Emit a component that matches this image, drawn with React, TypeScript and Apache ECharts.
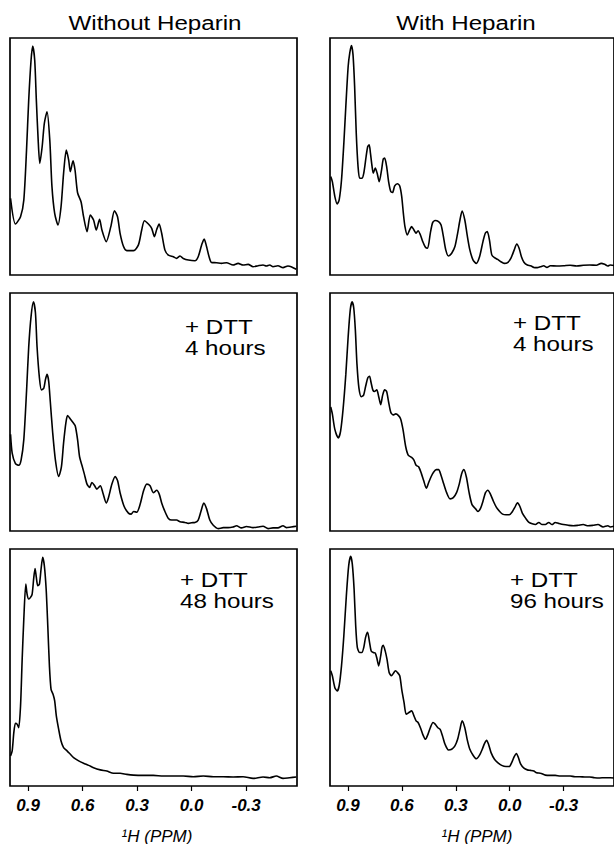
import React, { useEffect, useRef } from "react";
import * as echarts from "echarts";

// 1H NMR methyl region, chemical shift (ppm) vs relative intensity (0-100)
const withoutHeparin: [number, number][] = [
  [0.997, 32.3], [0.97, 21.5], [0.942, 24.6], [0.924, 31.6], [0.909, 52.7], [0.897, 73.8], [0.884, 90.7],
  [0.875, 96.6], [0.864, 90.7], [0.855, 73.8], [0.845, 57.0], [0.836, 47.1], [0.823, 54.1], [0.811, 64.0],
  [0.796, 68.9], [0.781, 57.0], [0.769, 37.3], [0.754, 26.0], [0.736, 21.1], [0.719, 28.8], [0.705, 42.9],
  [0.69, 52.7], [0.677, 48.5], [0.668, 43.6], [0.653, 48.2], [0.642, 44.3], [0.628, 34.7], [0.609, 30.9],
  [0.595, 24.6], [0.576, 18.3], [0.558, 25.3], [0.54, 23.2], [0.525, 19.0], [0.507, 23.5], [0.494, 19.0],
  [0.47, 14.1], [0.445, 20.4], [0.425, 27.1], [0.408, 24.6], [0.394, 17.6], [0.375, 12.0], [0.357, 10.3],
  [0.32, 10.3], [0.293, 12.7], [0.275, 19.0], [0.26, 22.9], [0.238, 21.5], [0.22, 19.7], [0.205, 16.2],
  [0.192, 19.3], [0.179, 21.5], [0.165, 17.6], [0.147, 10.5], [0.128, 8.4], [0.101, 7.7], [0.083, 7.0],
  [0.064, 8.0], [0.046, 7.0], [0.018, 6.3], [-0.018, 6.0], [-0.036, 7.7], [-0.055, 12.7], [-0.069, 15.2],
  [-0.082, 12.0], [-0.096, 7.7], [-0.109, 5.3], [-0.137, 5.2], [-0.164, 4.9], [-0.192, 5.2], [-0.228, 4.2],
  [-0.256, 4.9], [-0.283, 4.2], [-0.311, 4.5], [-0.338, 3.5], [-0.366, 3.9], [-0.393, 4.2], [-0.411, 3.8],
  [-0.43, 4.2], [-0.448, 3.5], [-0.475, 3.9], [-0.503, 3.1], [-0.53, 3.8], [-0.548, 3.5], [-0.576, 2.4],
];

const withoutHeparinDtt4h: [number, number][] = [
  [0.997, 40.6], [0.988, 32.7], [0.97, 28.3], [0.952, 27.6], [0.939, 29.8], [0.924, 38.4], [0.909, 58.6],
  [0.897, 77.3], [0.884, 90.2], [0.871, 96.3], [0.86, 91.7], [0.851, 77.3], [0.838, 64.3], [0.827, 59.3],
  [0.814, 60.0], [0.805, 63.6], [0.796, 65.8], [0.787, 62.9], [0.778, 54.2], [0.765, 41.3], [0.75, 29.8],
  [0.732, 22.9], [0.717, 26.9], [0.705, 37.0], [0.692, 45.6], [0.683, 48.5], [0.668, 47.1], [0.653, 45.6],
  [0.641, 44.2], [0.628, 38.4], [0.617, 31.2], [0.604, 27.6], [0.591, 24.0], [0.576, 19.7], [0.562, 18.3],
  [0.549, 20.4], [0.534, 19.0], [0.522, 17.6], [0.503, 19.0], [0.489, 16.1], [0.47, 11.8], [0.458, 14.0],
  [0.439, 19.7], [0.421, 22.9], [0.408, 21.2], [0.394, 16.1], [0.372, 10.4], [0.348, 7.5], [0.333, 7.1],
  [0.32, 8.2], [0.302, 7.9], [0.284, 11.1], [0.265, 16.8], [0.247, 19.7], [0.229, 19.0], [0.211, 16.1],
  [0.192, 17.1], [0.178, 15.4], [0.165, 11.8], [0.147, 8.2], [0.128, 5.3], [0.11, 4.6], [0.083, 4.6],
  [0.064, 3.9], [0.037, 3.6], [0.018, 3.2], [0.0, 3.5], [-0.018, 3.6], [-0.036, 4.6], [-0.051, 8.2],
  [-0.067, 11.7], [-0.082, 9.4], [-0.1, 4.6], [-0.119, 2.4], [-0.146, 1.0], [-0.174, 1.4], [-0.201, 1.4],
  [-0.228, 1.7], [-0.247, 2.2], [-0.274, 1.3], [-0.302, 1.9], [-0.338, 1.4], [-0.366, 1.7], [-0.393, 2.0],
  [-0.421, 1.0], [-0.448, 1.3], [-0.475, 1.3], [-0.503, 2.2], [-0.521, 1.4], [-0.548, 1.7], [-0.576, 2.0],
];

const withoutHeparinDtt48h: [number, number][] = [
  [0.997, 12.7], [0.988, 14.8], [0.979, 22.5], [0.97, 26.5], [0.961, 26.1], [0.952, 24.6], [0.942, 33.8],
  [0.933, 53.5], [0.924, 70.4], [0.913, 85.2], [0.906, 81.0], [0.897, 78.9], [0.887, 79.6], [0.878, 81.0],
  [0.869, 88.0], [0.862, 91.8], [0.855, 88.0], [0.847, 84.5], [0.838, 85.2], [0.829, 91.5], [0.82, 96.5],
  [0.811, 93.0], [0.801, 83.1], [0.792, 67.6], [0.783, 50.7], [0.774, 40.8], [0.763, 38.7], [0.754, 35.9],
  [0.745, 29.6], [0.732, 23.9], [0.719, 19.0], [0.705, 16.2], [0.686, 14.8], [0.668, 13.4], [0.65, 12.0],
  [0.622, 10.6], [0.595, 9.6], [0.567, 8.7], [0.54, 7.7], [0.503, 6.8], [0.467, 6.3], [0.43, 5.4],
  [0.394, 5.4], [0.357, 4.9], [0.32, 4.6], [0.265, 4.5], [0.211, 4.5], [0.156, 4.2], [0.101, 4.2],
  [0.046, 4.2], [-0.009, 3.9], [-0.064, 4.2], [-0.119, 3.9], [-0.174, 3.9], [-0.228, 3.8], [-0.283, 3.9],
  [-0.338, 3.2], [-0.393, 3.8], [-0.43, 3.5], [-0.466, 4.2], [-0.503, 3.2], [-0.539, 3.5], [-0.576, 3.8],
];

const withHeparin: [number, number][] = [
  [0.996, 41.5], [0.987, 39.4], [0.973, 33.1], [0.96, 30.0], [0.949, 31.7], [0.936, 40.1], [0.923, 55.6],
  [0.912, 71.1], [0.899, 88.0], [0.89, 93.7], [0.881, 96.8], [0.872, 93.0], [0.863, 79.6], [0.854, 59.9],
  [0.844, 45.8], [0.835, 40.8], [0.823, 40.8], [0.812, 43.0], [0.799, 50.0], [0.79, 54.2], [0.782, 54.9],
  [0.775, 51.4], [0.766, 45.8], [0.759, 43.0], [0.748, 45.1], [0.738, 43.0], [0.726, 39.4], [0.713, 44.4],
  [0.704, 48.9], [0.696, 49.3], [0.685, 45.8], [0.674, 39.4], [0.662, 35.2], [0.652, 34.8], [0.64, 37.6],
  [0.625, 38.5], [0.612, 37.6], [0.601, 33.1], [0.592, 26.1], [0.583, 20.4], [0.57, 16.9], [0.557, 19.0],
  [0.546, 20.4], [0.533, 19.0], [0.521, 17.6], [0.51, 18.7], [0.497, 16.9], [0.484, 14.1], [0.469, 11.7],
  [0.457, 11.3], [0.442, 17.6], [0.429, 22.1], [0.415, 23.0], [0.396, 22.5], [0.382, 21.1], [0.369, 16.2],
  [0.356, 10.6], [0.341, 8.0], [0.323, 9.2], [0.305, 12.0], [0.29, 17.6], [0.277, 23.2], [0.265, 27.0],
  [0.25, 23.2], [0.237, 16.9], [0.222, 10.6], [0.204, 6.3], [0.186, 4.9], [0.168, 7.7], [0.149, 14.1],
  [0.136, 17.6], [0.125, 18.3], [0.113, 14.8], [0.1, 8.5], [0.085, 7.3], [0.067, 6.6], [0.049, 5.6],
  [0.031, 4.9], [0.012, 5.2], [-0.006, 7.0], [-0.025, 10.6], [-0.039, 13.1], [-0.052, 11.3], [-0.065, 7.7],
  [-0.079, 5.4], [-0.098, 4.2], [-0.116, 3.9], [-0.134, 3.2], [-0.153, 3.1], [-0.171, 3.5], [-0.189, 3.9],
  [-0.207, 3.2], [-0.226, 3.9], [-0.262, 3.8], [-0.299, 3.9], [-0.336, 4.1], [-0.372, 3.8], [-0.409, 4.1],
  [-0.445, 4.2], [-0.482, 4.1], [-0.509, 4.9], [-0.528, 4.5], [-0.546, 3.8], [-0.559, 4.2], [-0.58, 4.0],
];

const withHeparinDtt4h: [number, number][] = [
  [0.996, 52.1], [0.987, 49.2], [0.973, 42.7], [0.954, 39.1], [0.941, 42.0], [0.927, 51.4], [0.912, 65.8],
  [0.899, 81.6], [0.887, 93.1], [0.877, 96.3], [0.868, 93.8], [0.859, 84.5], [0.85, 70.1], [0.839, 60.0],
  [0.826, 56.4], [0.813, 57.1], [0.802, 60.7], [0.79, 64.3], [0.78, 65.0], [0.771, 62.2], [0.762, 59.3],
  [0.753, 58.6], [0.74, 59.3], [0.729, 56.4], [0.718, 53.1], [0.707, 57.1], [0.696, 59.3], [0.685, 58.6],
  [0.674, 54.2], [0.662, 49.9], [0.649, 48.8], [0.634, 49.2], [0.619, 48.5], [0.607, 47.1], [0.594, 42.7],
  [0.579, 35.5], [0.565, 31.9], [0.546, 30.9], [0.533, 29.8], [0.521, 27.6], [0.506, 26.9], [0.491, 24.0],
  [0.479, 21.2], [0.464, 18.0], [0.451, 20.4], [0.437, 22.9], [0.424, 24.7], [0.409, 25.8], [0.396, 25.8],
  [0.382, 23.3], [0.367, 19.7], [0.351, 16.1], [0.332, 13.5], [0.314, 14.0], [0.296, 16.1], [0.281, 19.7],
  [0.268, 24.0], [0.255, 25.8], [0.241, 22.6], [0.226, 16.1], [0.21, 11.1], [0.191, 9.4], [0.177, 8.2],
  [0.162, 9.6], [0.149, 12.5], [0.135, 16.1], [0.122, 17.1], [0.107, 15.4], [0.091, 12.5], [0.074, 9.9],
  [0.056, 8.2], [0.04, 7.1], [0.021, 6.8], [0.003, 6.8], [-0.015, 8.2], [-0.028, 9.9], [-0.043, 11.8],
  [-0.056, 10.4], [-0.07, 7.5], [-0.089, 5.3], [-0.107, 3.6], [-0.125, 3.0], [-0.143, 2.7], [-0.162, 3.6],
  [-0.18, 2.7], [-0.198, 2.7], [-0.217, 3.6], [-0.235, 2.7], [-0.253, 3.6], [-0.272, 3.2], [-0.299, 2.7],
  [-0.326, 2.4], [-0.354, 2.2], [-0.381, 2.4], [-0.409, 2.7], [-0.436, 2.2], [-0.464, 2.4], [-0.491, 2.7],
  [-0.519, 1.7], [-0.546, 2.2], [-0.559, 1.7], [-0.58, 2.0],
];

const withHeparinDtt96h: [number, number][] = [
  [0.996, 48.6], [0.987, 46.5], [0.973, 41.5], [0.96, 40.1], [0.949, 42.3], [0.936, 50.7], [0.923, 63.4],
  [0.909, 80.3], [0.896, 93.0], [0.885, 96.9], [0.876, 93.7], [0.866, 83.1], [0.857, 67.6], [0.848, 58.5],
  [0.835, 56.3], [0.823, 56.3], [0.812, 58.5], [0.802, 62.7], [0.791, 64.8], [0.78, 60.6], [0.771, 57.0],
  [0.759, 56.3], [0.748, 56.1], [0.738, 53.5], [0.729, 50.7], [0.718, 54.9], [0.711, 58.5], [0.704, 59.4],
  [0.693, 57.0], [0.683, 53.5], [0.671, 47.9], [0.658, 46.5], [0.647, 47.6], [0.636, 48.6], [0.625, 47.9],
  [0.612, 46.5], [0.601, 40.8], [0.588, 35.2], [0.576, 30.3], [0.561, 31.0], [0.546, 31.7], [0.533, 29.6],
  [0.521, 27.5], [0.51, 26.8], [0.497, 24.6], [0.484, 21.8], [0.469, 19.7], [0.455, 21.8], [0.442, 24.6],
  [0.427, 26.8], [0.415, 26.1], [0.4, 24.6], [0.387, 23.9], [0.374, 21.1], [0.36, 17.6], [0.341, 15.2],
  [0.323, 15.5], [0.305, 16.9], [0.29, 19.7], [0.277, 23.9], [0.265, 27.5], [0.25, 24.6], [0.237, 19.7],
  [0.222, 15.5], [0.204, 13.0], [0.186, 11.5], [0.168, 13.0], [0.153, 15.5], [0.14, 18.0], [0.129, 19.3],
  [0.118, 17.6], [0.104, 14.1], [0.085, 11.3], [0.067, 9.9], [0.045, 8.7], [0.021, 8.2], [0.003, 8.2],
  [-0.012, 10.1], [-0.025, 12.4], [-0.037, 13.7], [-0.048, 12.0], [-0.061, 9.2], [-0.079, 7.5], [-0.098, 6.8],
  [-0.116, 6.6], [-0.134, 6.3], [-0.149, 5.6], [-0.171, 5.4], [-0.198, 4.6], [-0.226, 4.5], [-0.253, 4.5],
  [-0.281, 4.2], [-0.308, 4.2], [-0.336, 4.2], [-0.363, 3.9], [-0.39, 3.9], [-0.418, 3.8], [-0.445, 3.8],
  [-0.472, 3.5], [-0.5, 3.4], [-0.528, 3.5], [-0.559, 3.5], [-0.58, 3.4],
];

const ppmTicks = [0.9, 0.6, 0.3, 0.0, -0.3];
const columnTitles = ["Without Heparin", "With Heparin"];
const dttLabel = "+ DTT";
const timeLabels = [
  [null, "4 hours", "48 hours"],
  [null, "4 hours", "96 hours"],
];
const axisTitle = "\u00B9H (PPM)";

const spectra = [
  [withoutHeparin, withoutHeparinDtt4h, withoutHeparinDtt48h],
  [withHeparin, withHeparinDtt4h, withHeparinDtt96h],
];

const FONT = "'Liberation Sans', Arial, Helvetica, sans-serif";
const PPM_MIN = -0.58;
const PPM_MAX = 1.0;

// panel frames
const colLeft = [10, 330];
const panelWidth = 287;
const rowTop = [38, 293, 549];
const rowHeight = [237, 238, 237];
const colCenter = [155, 466];
const axisTitleCenter = [157, 477];
const noteLeft = [
  [0, 185, 180],
  [0, 513, 510],
];
const noteBaseline = [
  [0, 334, 587],
  [0, 330, 587],
];

export default function App() {
  const ref = useRef<HTMLDivElement>(null);

  useEffect(() => {
    if (!ref.current) return;
    const chart = echarts.init(ref.current, undefined, { renderer: "svg" });

    const grid: any[] = [];
    const xAxis: any[] = [];
    const yAxis: any[] = [];
    const series: any[] = [];
    const graphic: any[] = [];

    for (let c = 0; c < 2; c++) {
      for (let r = 0; r < 3; r++) {
        const i = c * 3 + r;
        const bottomRow = r === 2;
        grid.push({
          left: colLeft[c],
          top: rowTop[r],
          width: panelWidth,
          height: rowHeight[r],
          show: true,
          borderColor: "#000",
          borderWidth: 1.7,
          backgroundColor: "transparent",
          containLabel: false,
        });
        xAxis.push({
          type: "value",
          gridIndex: i,
          inverse: true,
          min: PPM_MIN,
          max: PPM_MAX,
          axisLine: { show: false },
          splitLine: { show: false },
          axisTick: {
            show: bottomRow,
            inside: false,
            length: 5,
            customValues: ppmTicks,
            lineStyle: { color: "#000", width: 1.2 },
          },
          axisLabel: {
            show: bottomRow,
            customValues: ppmTicks,
            formatter: (v: number) => v.toFixed(1),
            margin: 11,
            color: "#000",
            fontFamily: FONT,
            fontStyle: "italic",
            fontWeight: "bold",
            fontSize: 17,
          },
        });
        yAxis.push({
          type: "value",
          gridIndex: i,
          min: 0,
          max: 100,
          show: false,
        });
        series.push({
          type: "line",
          xAxisIndex: i,
          yAxisIndex: i,
          data: spectra[c][r],
          showSymbol: false,
          smooth: 0.25,
          clip: true,
          lineStyle: { color: "#000", width: 1.6 },
        });

        const t = timeLabels[c][r];
        if (t) {
          const fs = 21;
          const mid = 0.35 * fs;
          graphic.push({
            type: "text",
            x: noteLeft[c][r],
            y: noteBaseline[c][r] - mid,
            scaleX: 1.15,
            style: {
              text: dttLabel,
              font: `${fs}px ${FONT}`,
              fill: "#000",
              align: "left",
              verticalAlign: "middle",
            },
          });
          graphic.push({
            type: "text",
            x: noteLeft[c][r],
            y: noteBaseline[c][r] + 21 - mid,
            scaleX: 1.15,
            style: {
              text: t,
              font: `${fs}px ${FONT}`,
              fill: "#000",
              align: "left",
              verticalAlign: "middle",
            },
          });
        }
      }

      graphic.push({
        type: "text",
        x: colCenter[c],
        y: 23,
        scaleX: 1.15,
        style: {
          text: columnTitles[c],
          font: `21px ${FONT}`,
          fill: "#000",
          align: "center",
          verticalAlign: "middle",
        },
      });
      graphic.push({
        type: "text",
        x: axisTitleCenter[c],
        y: 836,
        style: {
          text: axisTitle,
          font: `italic 17px ${FONT}`,
          fill: "#000",
          align: "center",
          verticalAlign: "middle",
        },
      });
    }

    chart.setOption({
      animation: false,
      backgroundColor: "#fff",
      grid,
      xAxis,
      yAxis,
      series,
      graphic,
    });

    return () => chart.dispose();
  }, []);

  return (
    <div
      ref={ref}
      style={{ position: "absolute", left: 0, top: 0, width: 614, height: 844 }}
    />
  );
}
